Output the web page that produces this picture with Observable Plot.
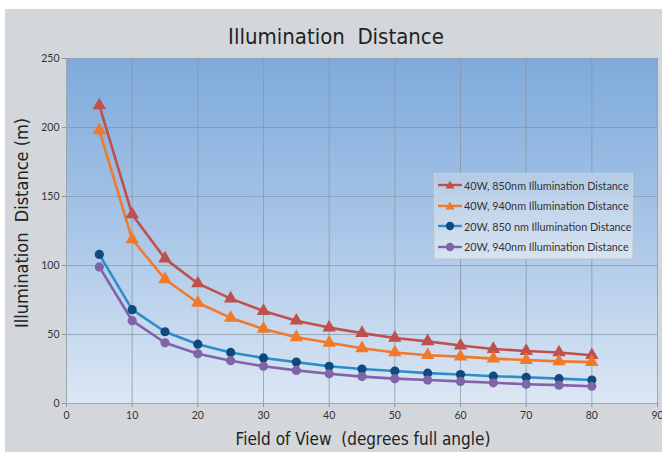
<!DOCTYPE html>
<html>
<head>
<meta charset="utf-8">
<script src="https://cdn.jsdelivr.net/npm/d3@7"></script>
<script src="https://cdn.jsdelivr.net/npm/@observablehq/plot@0.6"></script>
<style>
  html, body { margin: 0; padding: 0; background: #ffffff; width: 662px; height: 452px; overflow: hidden; }
  #panel { position: absolute; left: 5px; top: 9px; width: 657px; height: 443px; background: #d3d7db; }
  #title { position: absolute; left: 0; top: 15px; width: 662px; text-align: center;
           font-family: "Liberation Sans Narrow", "DejaVu Sans Condensed", sans-serif; font-size: 22px; color: #222; }
  #chart { position: absolute; left: 0; top: 41px; }
  #legend { position: absolute; left: 429px; top: 164px; width: 197px; height: 84px;
            border: 1px solid #c9d3de; background: linear-gradient(#b4cbe6, #d7e3f1);
            font-family: "Lato", "Open Sans", sans-serif; font-size: 10.8px; color: #333; }
  .item { position: absolute; left: 3px; height: 14px; display: flex; align-items: center; white-space: nowrap; }
  .item svg { margin-right: 2px; }
</style>
</head>
<body>
<div id="panel">
  <div id="title">Illumination&nbsp;&nbsp;Distance</div>
  <div id="chart"></div>
  <div id="legend"></div>
</div>
<script>
const fov = [5, 10, 15, 20, 25, 30, 35, 40, 45, 50, 55, 60, 65, 70, 75, 80];
const w40_850 = [216, 137, 105, 87, 76, 67, 60, 55, 51, 47.5, 45, 42, 39.5, 38, 37, 35];
const w40_940 = [198, 119, 90, 73, 62, 54, 48, 44, 40, 37, 35, 34, 32.5, 31.5, 30.5, 30];
const w20_850 = [108, 68, 52, 43, 37, 33, 30, 27, 25, 23.5, 22, 21, 19.8, 19, 18, 17];
const w20_940 = [99, 60, 44, 36, 31, 27, 24, 21.5, 19.5, 18, 17, 16, 15, 14, 13.3, 12.5];
const seriesNames = [
  "40W, 850nm Illumination Distance",
  "40W, 940nm Illumination Distance",
  "20W, 850 nm Illumination Distance",
  "20W, 940nm Illumination Distance"
];
const seriesValues = [w40_850, w40_940, w20_850, w20_940];
const lineColors = ["#c0504d", "#f07a2a", "#2f8ccb", "#8064a8"];
const markColors = ["#c0504d", "#f07a2a", "#0e4a7e", "#8064a8"];
const symbols = ["triangle", "triangle", "circle", "circle"];
const xTicks = [0, 10, 20, 30, 40, 50, 60, 70, 80, 90];
const yTicks = [0, 50, 100, 150, 200, 250];

const rows = [];
seriesNames.forEach((name, i) => {
  fov.forEach((f, j) => rows.push({ series: name, fov: f, value: seriesValues[i][j] }));
});

const tickFont = "Lato, 'Open Sans', sans-serif";
const chart = Plot.plot({
  width: 657,
  height: 402,
  marginLeft: 61,
  marginRight: 5,
  marginTop: 8,
  marginBottom: 49,
  style: { background: "transparent", fontFamily: tickFont, fontSize: "10.5px", color: "#333" },
  x: { domain: [0, 90] },
  y: { domain: [0, 250] },
  marks: [
    Plot.frame({ fill: "url(#bggrad)" }),
    Plot.gridX(xTicks, { stroke: "#8a96a3", strokeOpacity: 0.75 }),
    Plot.gridY(yTicks, { stroke: "#8a96a3", strokeOpacity: 0.75 }),
    Plot.axisX(xTicks, { tickSize: 4, tickPadding: 4, stroke: "#8a96a3", label: null, fill: "#333" }),
    Plot.axisY(yTicks, { tickSize: 4, tickPadding: 3, stroke: "#8a96a3", label: null, fill: "#333" }),
    Plot.ruleX([0], { stroke: "#9aa6b2" }),
    Plot.ruleY([0], { stroke: "#9aa6b2" }),
    ...seriesNames.map((name, i) =>
      Plot.line(rows.filter(d => d.series === name), { x: "fov", y: "value", stroke: lineColors[i], strokeWidth: 2.6 })
    ),
    ...seriesNames.map((name, i) =>
      Plot.dot(rows.filter(d => d.series === name), {
        x: "fov", y: "value", fill: markColors[i], stroke: "none",
        symbol: symbols[i], r: symbols[i] === "triangle" ? 5 : 4.6
      })
    )
  ]
});

const ns = "http://www.w3.org/2000/svg";
const defs = document.createElementNS(ns, "defs");
defs.innerHTML = `<linearGradient id="bggrad" x1="0" y1="0" x2="0" y2="1">
  <stop offset="0" stop-color="#7eaadb"/>
  <stop offset="0.5" stop-color="#a9c6e7"/>
  <stop offset="1" stop-color="#dce7f4"/>
</linearGradient>`;
chart.insertBefore(defs, chart.firstChild);

// axis titles
const t1 = document.createElementNS(ns, "text");
t1.setAttribute("x", 358); t1.setAttribute("y", 395);
t1.setAttribute("text-anchor", "middle");
t1.setAttribute("style", "font-family:'Liberation Sans Narrow','DejaVu Sans Condensed',sans-serif;font-size:17px;fill:#222;white-space:pre");
t1.textContent = "Field of View  (degrees full angle)";
chart.appendChild(t1);
const t2 = document.createElementNS(ns, "text");
t2.setAttribute("transform", "translate(23,173) rotate(-90)");
t2.setAttribute("text-anchor", "middle");
t2.setAttribute("style", "font-family:'Liberation Sans Narrow','DejaVu Sans Condensed',sans-serif;font-size:18px;fill:#222;white-space:pre");
t2.textContent = "Illumination  Distance (m)";
chart.appendChild(t2);

document.getElementById("chart").appendChild(chart);

// legend
const legend = document.getElementById("legend");
seriesNames.forEach((name, i) => {
  const div = document.createElement("div");
  div.className = "item";
  div.style.top = (4 + i * 20.5) + "px";
  const mk = symbols[i] === "triangle"
    ? `<path d="M12,2.5 L16.5,10.5 L7.5,10.5 Z" fill="${markColors[i]}"/>`
    : `<circle cx="12" cy="7" r="4.2" fill="${markColors[i]}"/>`;
  div.innerHTML = `<svg width="24" height="14"><line x1="0" y1="7" x2="24" y2="7" stroke="${lineColors[i]}" stroke-width="2.4"/>${mk}</svg><span>${name}</span>`;
  legend.appendChild(div);
});
</script>
</body>
</html>
